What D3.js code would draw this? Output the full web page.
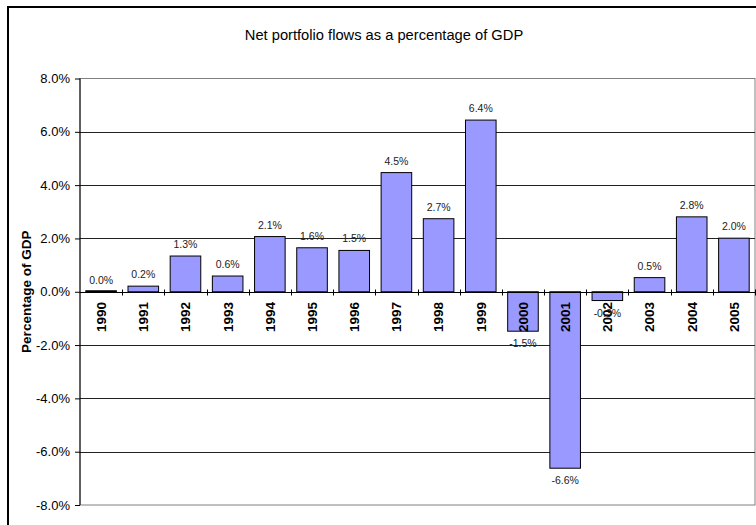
<!DOCTYPE html>
<html><head><meta charset="utf-8">
<script src="https://cdn.jsdelivr.net/npm/d3@7/dist/d3.min.js"></script>
<style>body{margin:0;background:#fff}svg{display:block;font-family:"Liberation Sans",Arial,sans-serif}</style>
</head><body><svg id="c" width="756" height="525"></svg>
<script>
const years = ["1990","1991","1992","1993","1994","1995","1996","1997","1998","1999","2000","2001","2002","2003","2004","2005"];
const values = [0.0, 0.21, 1.34, 0.59, 2.07, 1.65, 1.55, 4.47, 2.74, 6.44, -1.48, -6.62, -0.33, 0.53, 2.81, 2.01];
const labels = ["0.0%","0.2%","1.3%","0.6%","2.1%","1.6%","1.5%","4.5%","2.7%","6.4%","-1.5%","-6.6%","-0.3%","0.5%","2.8%","2.0%"];
const yTicks = [8,6,4,2,0,-2,-4,-6,-8];
const title = "Net portfolio flows as a percentage of GDP";
const yTitle = "Percentage of GDP";

const svg = d3.select("#c");
const L = 80, R = 755, T = 78.5, B = 505;
const x = d3.scaleBand().domain(years).range([L, R]).paddingInner(0.275).paddingOuter(0.1375);
const y = d3.scaleLinear().domain([-8, 8]).range([B, T]);

// outer chart border
svg.append("rect").attr("x", 8).attr("y", 7).attr("width", 760).attr("height", 540)
  .attr("fill", "#fff").attr("stroke", "#000").attr("stroke-width", 2);

// title
svg.append("text").attr("x", 384).attr("y", 40).attr("text-anchor", "middle")
  .attr("font-size", 14.7).text(title);

// plot border (gray)
svg.append("rect").attr("x", L).attr("y", T).attr("width", R - L).attr("height", B - T)
  .attr("fill", "none").attr("stroke", "#808080").attr("stroke-width", 1);

// gridlines
svg.append("g").selectAll("line").data(yTicks.filter(d => d !== 8 && d !== -8 && d !== 0)).join("line")
  .attr("x1", L).attr("x2", R).attr("y1", d => Math.round(y(d)) + 0.5).attr("y2", d => Math.round(y(d)) + 0.5)
  .attr("stroke", "#222").attr("stroke-width", 1);

// y axis
const yAxis = d3.axisLeft(y).tickValues(yTicks).tickSize(5).tickPadding(5)
  .tickFormat(d => d.toFixed(1) + "%");
const gy = svg.append("g").attr("transform", `translate(${L},0)`).call(yAxis);
gy.select(".domain").remove();
gy.append("line").attr("x1", 0).attr("x2", 0).attr("y1", T).attr("y2", B).attr("stroke", "#000");
gy.selectAll("text").attr("font-size", 13).attr("fill", "#000").attr("font-family", "Liberation Sans, Arial, sans-serif");
gy.selectAll(".tick line").attr("stroke", "#000");

// y title
svg.append("text").attr("transform", `translate(31,${(T + B) / 2}) rotate(-90)`)
  .attr("text-anchor", "middle").attr("font-weight", "bold").attr("font-size", 13.5).text(yTitle);

// bars
const bw = x.bandwidth();
svg.append("g").selectAll("rect").data(years).join("rect")
  .attr("x", d => x(d)).attr("width", bw)
  .attr("y", (d, i) => Math.min(y(values[i]), y(0)) - (values[i] === 0 ? 1 : 0))
  .attr("height", (d, i) => Math.max(Math.abs(y(values[i]) - y(0)), 1))
  .attr("fill", "#9999FF").attr("stroke", "#000").attr("stroke-width", 1);

// zero axis line
const y0 = Math.round(y(0)) + 0.5;
svg.append("line").attr("x1", L).attr("x2", R).attr("y1", y0).attr("y2", y0).attr("stroke", "#000");
// category tick marks (cross)
const bounds = d3.range(years.length + 1).map(i => L + i * (R - L) / years.length);
svg.append("g").selectAll("line").data(bounds.slice(1)).join("line")
  .attr("x1", d => Math.round(d) + 0.5).attr("x2", d => Math.round(d) + 0.5)
  .attr("y1", y0 - 3).attr("y2", y0 + 3).attr("stroke", "#000");

// category labels
svg.append("g").selectAll("text").data(years).join("text")
  .attr("transform", d => `translate(${x(d) + bw / 2},302) rotate(-90)`)
  .attr("text-anchor", "end").attr("dy", "0.36em")
  .attr("font-weight", "bold").attr("font-size", 13.5).text(d => d);

// data labels
svg.append("g").selectAll("text").data(years).join("text")
  .attr("x", d => x(d) + bw / 2)
  .attr("y", (d, i) => values[i] >= 0 ? y(values[i]) - 8 : y(values[i]) + 16)
  .attr("text-anchor", "middle").attr("font-size", 10.5).attr("fill", "#222")
  .text((d, i) => labels[i]);
</script></body></html>
